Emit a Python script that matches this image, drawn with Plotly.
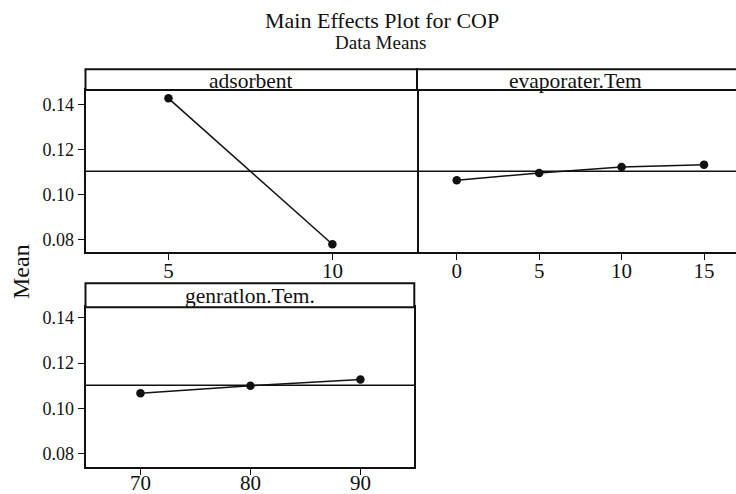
import plotly.graph_objects as go

# Factor levels and the mean COP at each level
adsorbent_levels = [5, 10]
adsorbent_means = [0.1427, 0.0778]

evap_levels = [0, 5, 10, 15]
evap_means = [0.1063, 0.1095, 0.1121, 0.1132]

gen_levels = [70, 80, 90]
gen_means = [0.1067, 0.1100, 0.1128]

grand_mean = 0.1102

panel_titles = ["adsorbent", "evaporater.Tem", "genratlon.Tem."]
y_ticks = [0.08, 0.10, 0.12, 0.14]
y_tick_text = ["0.08", "0.10", "0.12", "0.14"]

W, H = 736, 494
FONT = "Liberation Serif"
INK = "#111111"


def fx(p):
    return p / W


def fy(p):
    return 1 - p / H


fig = go.Figure()

series = [
    (adsorbent_levels, adsorbent_means, "x", "y"),
    (evap_levels, evap_means, "x2", "y2"),
    (gen_levels, gen_means, "x3", "y3"),
]
for xs, ys, xa, ya in series:
    fig.add_trace(go.Scatter(
        x=xs, y=ys, xaxis=xa, yaxis=ya, mode="lines+markers",
        line=dict(color=INK, width=1.5),
        marker=dict(color=INK, size=8.5),
        showlegend=False, hoverinfo="x+y", cliponaxis=False,
    ))

axis_common = dict(
    showgrid=False, zeroline=False, showline=True, linecolor=INK, linewidth=2,
    ticks="outside", ticklen=6, tickwidth=1.2, tickcolor=INK,
    fixedrange=True, automargin=False,
)
xfont = dict(family=FONT, size=21, color=INK)
yfont = dict(family=FONT, size=18, color=INK)

# panel pixel boxes (plot area only)
p1 = dict(l=85.5, r=417, t=90, b=252.3, st=69.3)
p2 = dict(l=417, r=736, t=90, b=252.3, st=69.3)
p3 = dict(l=85.5, r=414.3, t=307.3, b=466.7, st=283.3)

fig.update_layout(
    template="none",
    width=W, height=H,
    margin=dict(l=0, r=0, t=0, b=0, pad=0),
    font=dict(family=FONT, color=INK),
    paper_bgcolor="white", plot_bgcolor="white",
    xaxis=dict(axis_common, domain=[fx(p1["l"]), fx(p1["r"])], range=[2.47, 12.58],
               tickvals=adsorbent_levels, tickfont=xfont, ticklabelstandoff=-8,
               mirror=True, anchor="y"),
    yaxis=dict(axis_common, domain=[fy(p1["b"]), fy(p1["t"])], range=[0.0742, 0.1464],
               tickvals=y_ticks, ticktext=y_tick_text, tickfont=yfont, mirror=True, anchor="x"),
    xaxis2=dict(axis_common, domain=[fx(p2["l"]), 1.0], range=[-2.41, 16.94],
                tickvals=evap_levels, tickfont=xfont, ticklabelstandoff=-8,
                mirror=True, anchor="y2"),
    yaxis2=dict(axis_common, domain=[fy(p2["b"]), fy(p2["t"])], range=[0.0742, 0.1464],
                showticklabels=False, ticks="", showline=False, anchor="x2"),
    xaxis3=dict(axis_common, domain=[fx(p3["l"]), fx(p3["r"])], range=[65.0, 94.9],
                tickvals=gen_levels, tickfont=xfont, ticklabelstandoff=-10,
                mirror=True, anchor="y3"),
    yaxis3=dict(axis_common, domain=[fy(p3["b"]), fy(p3["t"])], range=[0.0743, 0.1446],
                tickvals=y_ticks, ticktext=y_tick_text, tickfont=yfont, mirror=True, anchor="x3"),
)

shapes = []
annotations = []

# grand-mean reference line in every panel
for xa, ya in [("x", "y"), ("x2", "y2"), ("x3", "y3")]:
    shapes.append(dict(type="line", xref=f"{xa} domain", yref=ya, x0=0, x1=1,
                       y0=grand_mean, y1=grand_mean,
                       line=dict(color=INK, width=1.5), layer="below"))

# strip headers above each panel
for p, title in zip([p1, p2, p3], panel_titles):
    right = p["r"] if p["r"] < W else W + 10
    shapes.append(dict(type="rect", xref="paper", yref="paper",
                       x0=fx(p["l"]), x1=fx(right),
                       y0=fy(p["t"]), y1=fy(p["st"]),
                       line=dict(color=INK, width=2), fillcolor="white"))
    annotations.append(dict(xref="paper", yref="paper",
                            x=fx((p["l"] + min(p["r"], 734)) / 2), y=fy((p["t"] + p["st"]) / 2 + 1),
                            text=title, showarrow=False, xanchor="center", yanchor="middle",
                            font=dict(family=FONT, size=21.5, color=INK)))

# titles
annotations.append(dict(xref="paper", yref="paper", x=fx(382), y=fy(20),
                        text="Main Effects Plot for COP", showarrow=False,
                        xanchor="center", yanchor="middle",
                        font=dict(family=FONT, size=22, color=INK)))
annotations.append(dict(xref="paper", yref="paper", x=fx(380), y=fy(43),
                        text="Data Means", showarrow=False,
                        xanchor="center", yanchor="middle",
                        font=dict(family=FONT, size=19, color=INK)))
annotations.append(dict(xref="paper", yref="paper", x=fx(21), y=fy(272),
                        text="Mean", showarrow=False, textangle=-90,
                        xanchor="center", yanchor="middle",
                        font=dict(family=FONT, size=24, color=INK)))

fig.update_layout(shapes=shapes, annotations=annotations)

fig.write_html("out.html")
